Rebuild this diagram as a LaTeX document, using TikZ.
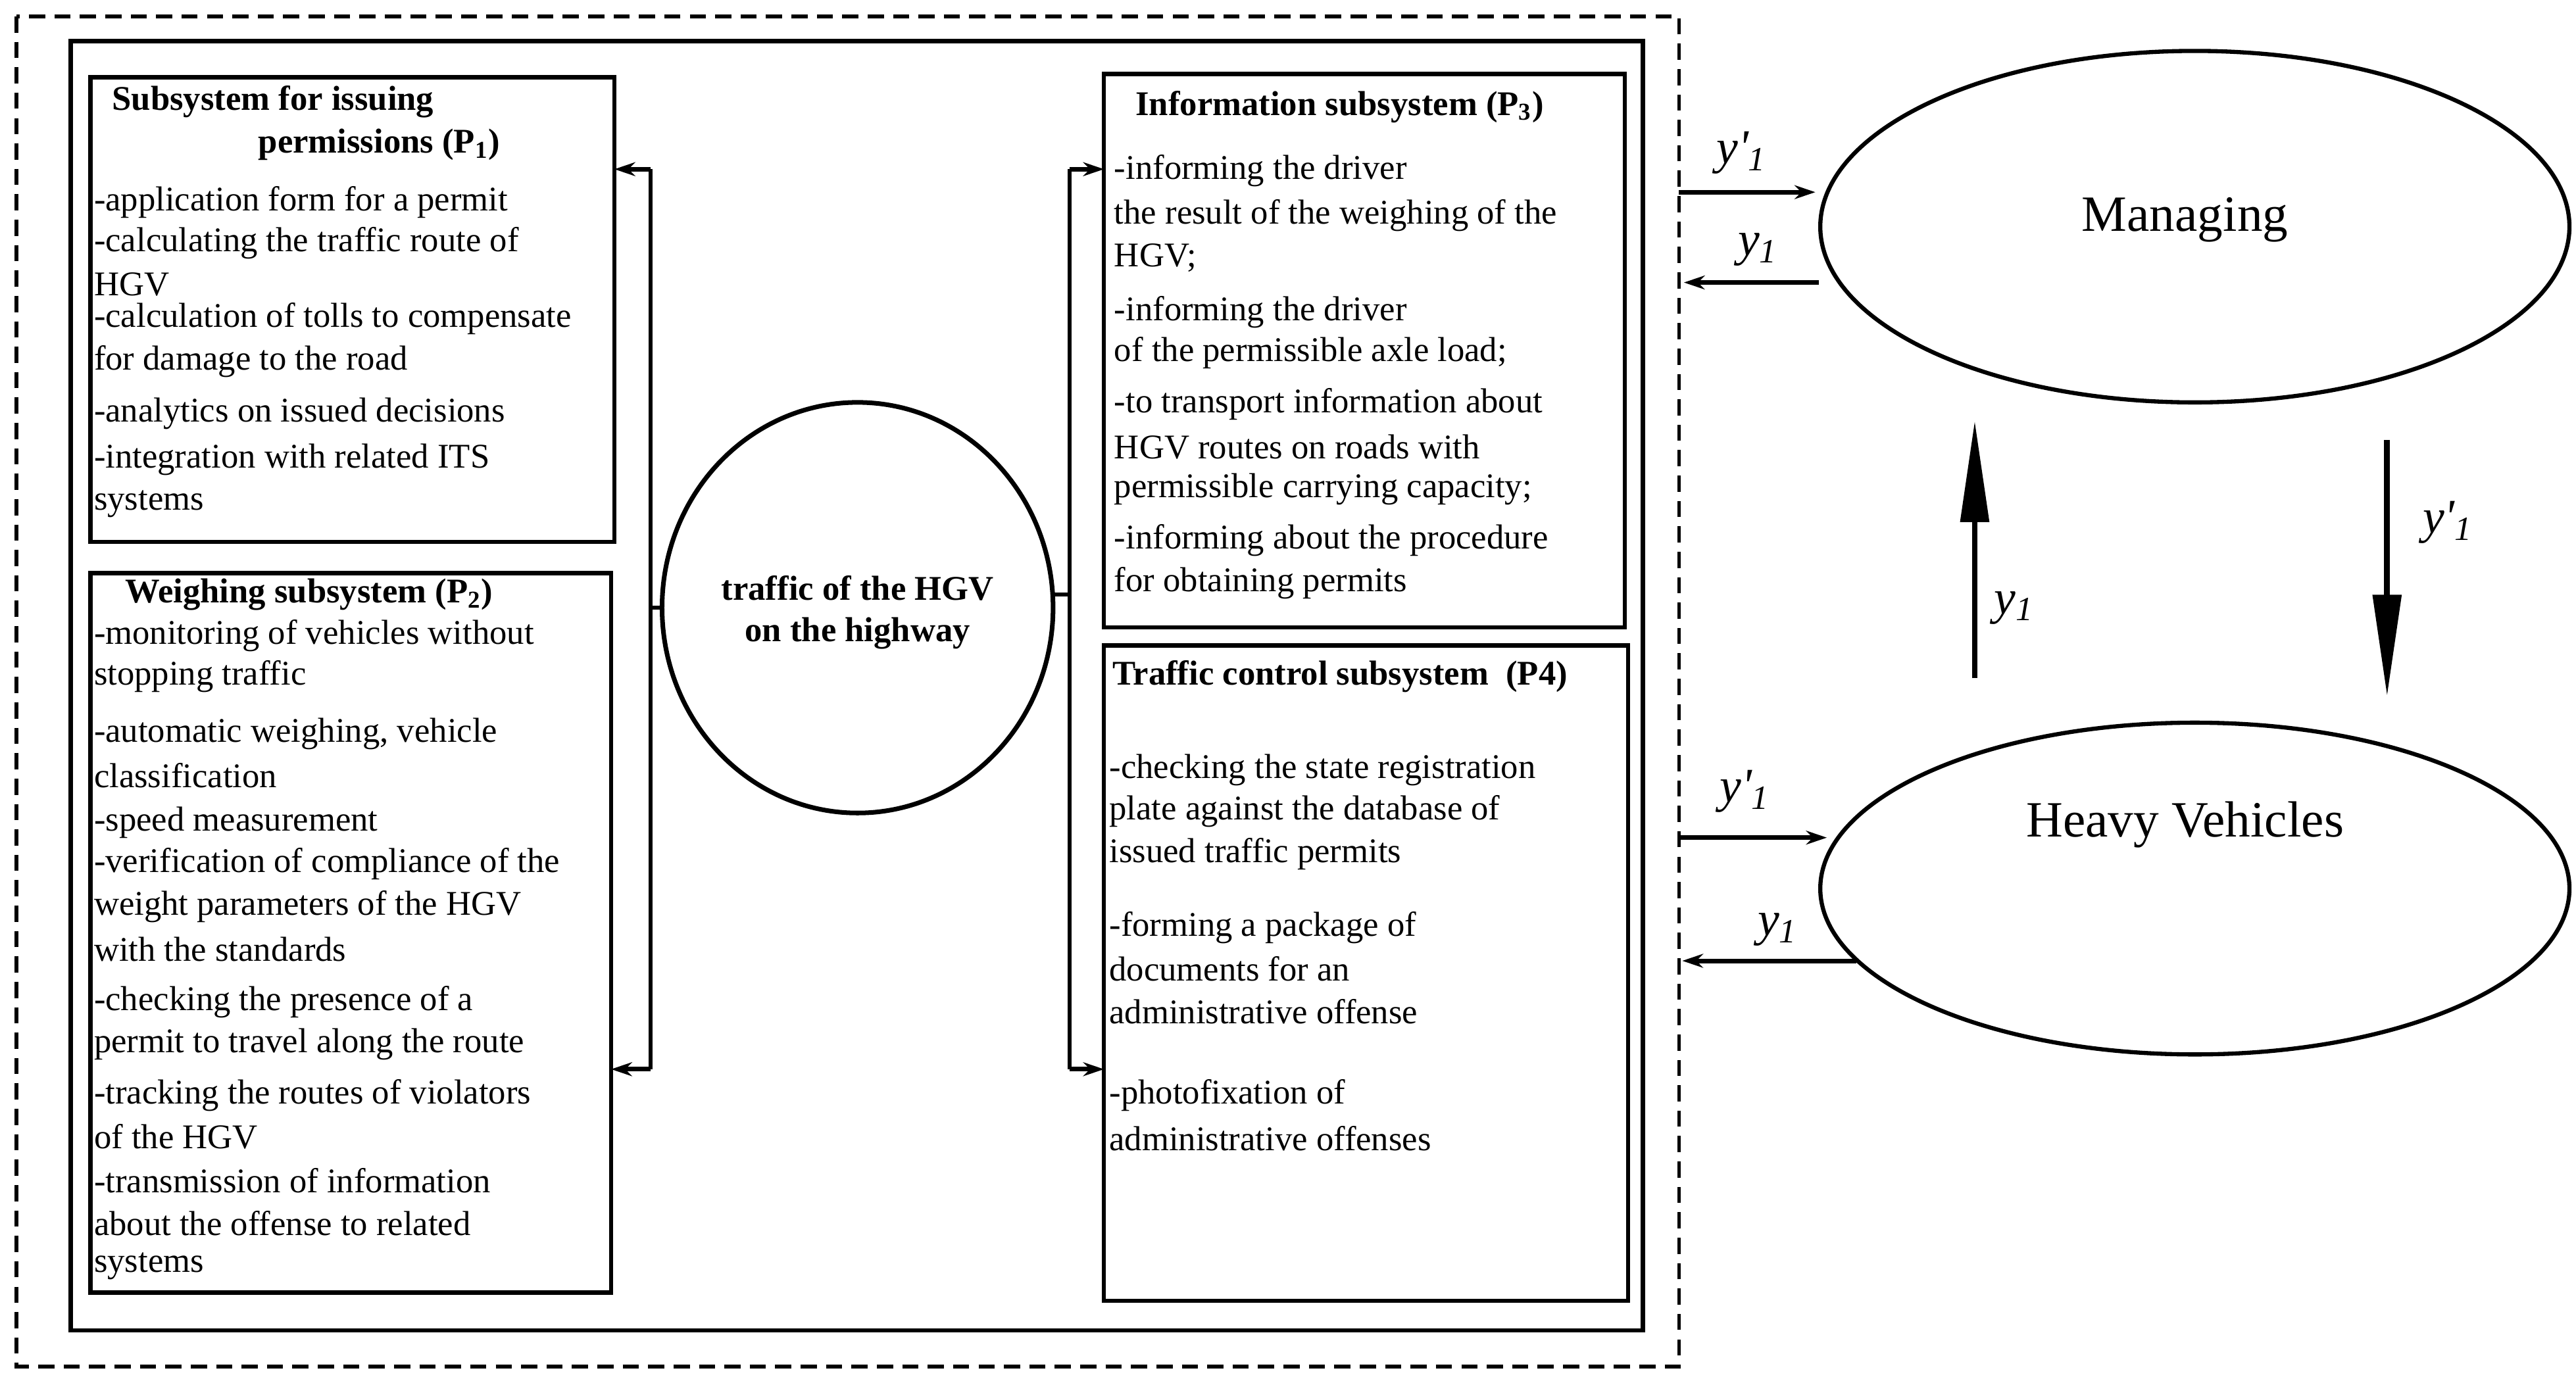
\documentclass[tikz,border=0pt]{standalone}
\usepackage{fontspec}
\setmainfont{Liberation Serif}
\usetikzlibrary{arrows.meta}
\begin{document}
\begin{tikzpicture}[x=0.025cm,y=-0.025cm,
  box/.style={draw,line width=1.8pt},
  ln/.style={anchor=west,inner sep=0pt,font=\fontsize{15}{18}\selectfont},
  ttl/.style={anchor=west,inner sep=0pt,font=\fontsize{15}{18}\selectfont\bfseries},
  conn/.style={line width=1.8pt},
  sarr/.style={line width=2pt,-{Stealth[length=9pt,width=6pt]}},
  barr/.style={line width=2.5pt,-{Triangle[length=44pt,width=12pt]}},
  ylab/.style={inner sep=0pt,font=\fontsize{21}{24}\selectfont\itshape}]
\useasboundingbox (0,0) rectangle (1568,842);
\draw[line width=1.5pt,dash pattern=on 7pt off 4pt] (10,10) rectangle (1022,832);
\draw[line width=1.8pt] (43,25) rectangle (1000,810);
% boxes
\draw[box] (55,47) rectangle (374,330);
\draw[box] (55,349) rectangle (372,787);
\draw[box] (672,45) rectangle (989,382);
\draw[box] (672,393) rectangle (991,792);
% P1
\node[ttl] (t1a) at (68,62) {Subsystem for issuing};
\node[ttl] (t1b) at (157,88) {permissions (P\textsubscript{1})};
\foreach \yy/\tx [count=\i] in {123/-application form for a permit,148/-calculating the traffic route of,173/HGV,194/-calculation of tolls to compensate,220/for damage to the road,252/-analytics on issued decisions,280/-integration with related ITS,307/systems}
  \node[ln] (a\i) at (57,\yy) {\tx};
% P2
\node[ttl] (t2) at (76,362) {Weighing subsystem (P\textsubscript{2})};
\foreach \yy/\tx [count=\i] in {387/-monitoring of vehicles without,412/stopping traffic,447/{-automatic weighing, vehicle},472/classification,501/-speed measurement,526/-verification of compliance of the,552/weight parameters of the HGV,578/with the standards,610/-checking the presence of a,636/permit to travel along the route,667/-tracking the routes of violators,692/of the HGV,719/-transmission of information,745/about the offense to related,771/systems}
  \node[ln] (b\i) at (57,\yy) {\tx};
% P3
\node[ttl] (t3) at (691,65) {Information subsystem (P\textsubscript{3})};
\foreach \yy/\tx [count=\i] in {104/-informing the driver/owner of,131/the result of the weighing of the,157/HGV;,190/-informing the driver/owner,215/of the permissible axle load;,246/-to transport information about,272/HGV routes on roads with,298/permissible carrying capacity;,329/-informing about the procedure,355/for obtaining permits}
  \node[ln] (c\i) at (678,\yy) {\tx};
% P4
\node[ttl] (t4) at (677,412) {Traffic control subsystem\ \ (P4)};
\foreach \yy/\tx [count=\i] in {469/-checking the state registration,494/plate against the database of,520/issued traffic permits,565/-forming a package of,590/documents for an,616/administrative offense,667/-photofixation of,693/administrative offenses}
  \node[ln] (d\i) at (675,\yy) {\tx};
% center circle
\draw[line width=2pt] (522,370) ellipse [x radius=119, y radius=125];
\node[align=center,font=\fontsize{15}{18}\selectfont\bfseries] (c) at (522,373) {traffic of the HGV\\on the highway};
\coordinate (L1) at (396,103); \coordinate (L2) at (396,651);
\coordinate (R1) at (651,103); \coordinate (R2) at (651,651);
\coordinate (p1) at (374,103); \coordinate (p2) at (372,651);
\coordinate (p3) at (672,103); \coordinate (p4) at (672,651);
\draw[conn] (L1) -- (L2);
\draw[conn] (R1) -- (R2);
\draw[conn] (403,370) -- (396,370);
\draw[conn] (641,362) -- (651,362);
\draw[sarr] (L1) -- (p1);
\draw[sarr] (L2) -- (p2);
\draw[sarr] (R1) -- (p3);
\draw[sarr] (R2) -- (p4);
% right part
\draw[line width=1.8pt] (1336,138) ellipse [x radius=228, y radius=107];
\node[font=\fontsize{22}{26}\selectfont] (man) at (1330,134) {Managing};
\draw[line width=1.8pt] (1336,541) ellipse [x radius=228, y radius=101];
\node[font=\fontsize{22}{26}\selectfont] (hv) at (1330,502) {Heavy Vehicles};
\coordinate (m1a) at (1022,117); \coordinate (m1b) at (1105,117);
\coordinate (m2a) at (1107,172); \coordinate (m2b) at (1025,172);
\coordinate (h1a) at (1022,510); \coordinate (h1b) at (1112,510);
\coordinate (h2a) at (1130,585); \coordinate (h2b) at (1024,585);
\draw[sarr] (m1a) -- (m1b);
\draw[sarr] (m2a) -- (m2b);
\draw[sarr] (h1a) -- (h1b);
\draw[sarr] (h2a) -- (h2b);
\node[ylab] (l1) at (1060,93) {y\textquotesingle\textsubscript{1}};
\node[ylab] (l2) at (1070,152) {y\textsubscript{1}};
\node[ylab] (l3) at (1062,482) {y\textquotesingle\textsubscript{1}};
\node[ylab] (l4) at (1082,566) {y\textsubscript{1}};
\coordinate (u1) at (1202,413); \coordinate (u2) at (1202,256);
\coordinate (v1) at (1453,268); \coordinate (v2) at (1453,424);
\draw[barr] (u1) -- (u2);
\draw[barr] (v1) -- (v2);
\node[ylab] (l5) at (1226,370) {y\textsubscript{1}};
\node[ylab] (l6) at (1490,318) {y\textquotesingle\textsubscript{1}};
\end{tikzpicture}
\end{document}
